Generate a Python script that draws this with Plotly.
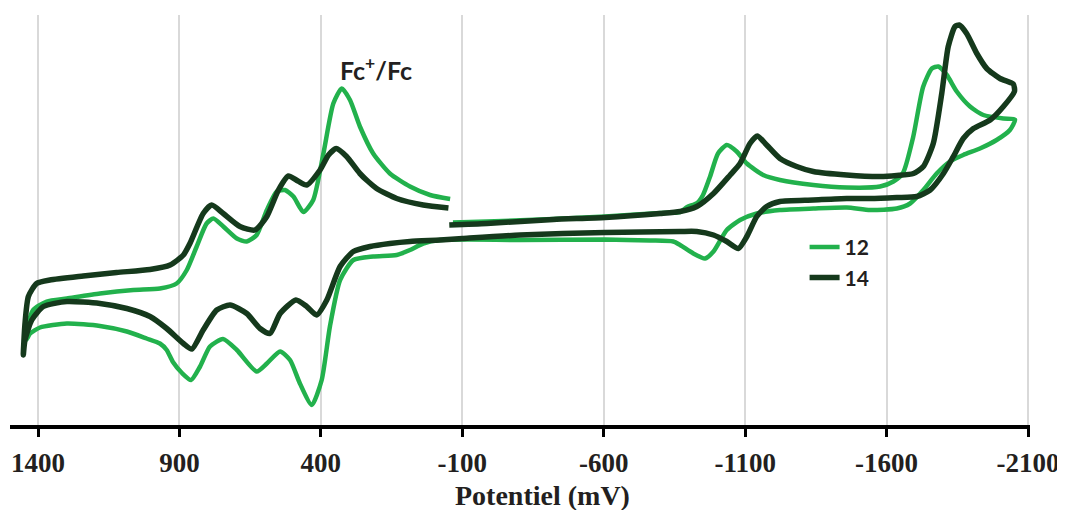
import plotly.graph_objects as go

# Potential (mV) and current (arbitrary units)
# Compound 12: scan from -60 mV toward -2050 mV, back through 0 to +1440 mV, back to -60 mV
e12 = [-67, -187, -421, -605, -799, -870, -895, -930, -951, -976, -1004, -1035, -1070, -1106,
       -1164, -1223, -1341, -1459, -1577, -1624, -1658, -1694, -1729, -1760, -1783, -1813,
       -1848, -1895, -1942, -2013, -2054,
       -2036, -1989, -1930, -1871, -1824, -1777, -1730, -1683, -1636, -1542, -1459, -1341,
       -1223, -1141, -1082, -1035, -988, -958, -917, -870, -846, -764, -605, -304, -127, -21,
       38, 85, 132, 215, 285, 332, 368, 397, 432, 474, 509, 544, 591, 627, 697, 746, 792, 827,
       859, 891, 923, 945, 969, 1016, 1086, 1181, 1298, 1393, 1428, 1441,
       1435, 1417, 1369, 1298, 1181, 1063, 969, 910, 874, 839, 804, 780, 745, 697, 662, 627,
       591, 556, 527, 497, 462, 427, 391, 356, 326, 297, 262, 215, 156, 85, 14, -57]
i12 = [20.2, 20.3, 20.55, 20.8, 21.15, 21.25, 21.75, 22.15, 22.95, 24.8, 27.1, 27.95, 27.3, 26.1,
       24.95, 24.45, 23.95, 23.7, 23.8, 24.3, 25.15, 28.75, 33.75, 35.6, 35.8, 34.95,
       33.3, 31.8, 30.95, 30.6, 30.5,
       29.45, 28.45, 27.6, 26.95, 26.3, 25.1, 23.45, 22.1, 21.6, 21.45, 21.7, 21.6,
       21.45, 21.1, 20.45, 19.45, 17.3, 16.6, 17.1, 17.95, 18.3, 18.4, 18.5, 18.45, 18.5, 18.45,
       18.1, 17.45, 16.95, 16.8, 16.45, 14.45, 9.8, 4.45, 1.95, 4.1, 6.45, 7.3, 6.1, 5.3, 7.45,
       8.55, 7.8, 5.8, 4.45, 5.15, 6.25, 7.45, 8.1, 8.6, 9.3, 9.85, 10.1, 9.7, 9.1, 8.45,
       9.95, 11.45, 12.3, 12.6, 13.1, 13.45, 13.6, 14.1, 15.45, 17.8, 20.1, 20.6, 19.8, 18.6,
       18.3, 18.95, 21.45, 23.3, 23.45, 22.8, 21.25, 22.45, 27.1, 32.1, 33.6, 32.45, 29.8,
       27.1, 25.1, 23.8, 22.95, 22.55]

# Compound 14
e14 = [-54, -187, -422, -605, -799, -870, -929, -988, -1047, -1082, -1117, -1143, -1176, -1223,
       -1282, -1341, -1459, -1577, -1636, -1695, -1730, -1765, -1795, -1818, -1842, -1857,
       -1883, -1919, -1954, -2001, -2048, -2052,
       -2052, -2013, -1966, -1907, -1871, -1836, -1801, -1754, -1707, -1636, -1542, -1459,
       -1341, -1223, -1176, -1141, -1106, -1076, -1035, -988, -929, -870, -605, -304, -101,
       -21, 85, 156, 226, 285, 332, 379, 415, 450, 488, 544, 580, 615, 662, 721, 768, 816, 856,
       886, 945, 1004, 1086, 1181, 1298, 1381, 1422, 1446, 1452,
       1446, 1434, 1405, 1358, 1240, 1122, 1004, 933, 886, 863, 816, 786, 745, 686, 633, 591,
       550, 515, 481, 450, 403, 373, 346, 309, 262, 203, 132, 38, -51]
i14 = [19.95, 20.1, 20.5, 20.7, 21.1, 21.3, 21.8, 23.1, 24.95, 26.1, 28.1, 28.85, 27.95, 26.6,
       25.8, 25.3, 24.95, 24.8, 24.9, 25.1, 25.8, 28.1, 33.1, 37.8, 39.8, 39.95,
       39.1, 37.1, 35.6, 34.6, 34.05, 33.65,
       33.3, 31.8, 30.45, 29.6, 28.6, 26.8, 25.1, 23.45, 22.8, 22.7, 22.6, 22.6,
       22.45, 22.3, 21.8, 20.8, 18.8, 17.6, 18.3, 18.95, 19.3, 19.3, 19.2, 18.95, 18.6,
       18.45, 18.3, 18.1, 17.8, 17.3, 15.8, 12.45, 10.95, 11.8, 12.45, 11.1, 9.1, 9.6, 11.1,
       11.95, 11.45, 9.45, 7.55, 8.1, 9.6, 10.8, 11.6, 12.1, 12.3, 11.8, 10.45, 8.45, 6.95,
       10.1, 12.8, 14.1, 14.45, 14.85, 15.2, 15.5, 15.95, 16.95, 18.1, 21.1, 21.95, 21.1, 19.8,
       19.45, 20.8, 23.45, 24.85, 24.35, 23.95, 25.45, 26.95, 27.6, 26.8, 25.1, 23.6, 22.6,
       21.95, 21.65]

tick_vals = [1400, 900, 400, -100, -600, -1100, -1600, -2100]
tick_text = ["1400", "900", "400", "-100", "-600", "-1100", "-1600", "-2100"]
series_names = ["12", "14"]

GREEN = "#22B14C"
DARK = "#15391C"
TEXT = "#231F20"

fig = go.Figure()
fig.add_trace(go.Scatter(x=e12, y=i12, mode="lines", name=series_names[0],
                         line=dict(color=GREEN, width=4.5, shape="spline", smoothing=0.6)))
fig.add_trace(go.Scatter(x=e14, y=i14, mode="lines", name=series_names[1],
                         line=dict(color=DARK, width=5.5, shape="spline", smoothing=0.6)))

fig.add_annotation(text="Fc<sup>+</sup>/Fc", x=204, y=35.6, xref="x", yref="y",
                   showarrow=False, xanchor="center", yanchor="middle",
                   font=dict(family="Lato", size=25, weight="bold", color=TEXT))
fig.add_annotation(text="Potentiel (mV)", x=0.5225, y=-0.171, xref="paper", yref="paper",
                   showarrow=False, xanchor="center", yanchor="middle",
                   font=dict(family="Liberation Serif", size=28, weight="bold", color=TEXT))

# the page places the figure 8 px in from the top-left corner of the window
fig.update_layout(
    width=1057, height=502,
    margin=dict(l=2, r=35, t=7, b=85),
    paper_bgcolor="white", plot_bgcolor="white",
    showlegend=True,
    legend=dict(x=0.779, xanchor="left", y=0.483, yanchor="top",
                bgcolor="rgba(0,0,0,0)",
                font=dict(family="Lato", size=21, weight="bold", color=TEXT),
                tracegroupgap=0),
    xaxis=dict(range=[1499, -2107], tickmode="array", tickvals=tick_vals, ticktext=tick_text,
               showgrid=True, gridcolor="#D9D9D9", gridwidth=1.5, zeroline=False,
               showline=True, linecolor="black", linewidth=3.5,
               ticks="outside", ticklen=8, tickwidth=3, tickcolor="black",
               ticklabelstandoff=3,
               tickfont=dict(family="Liberation Serif", size=27, weight="bold", color=TEXT)),
    yaxis=dict(range=[-0.05, 40.95], visible=False, showgrid=False, zeroline=False),
)

fig.write_html("out.html")
